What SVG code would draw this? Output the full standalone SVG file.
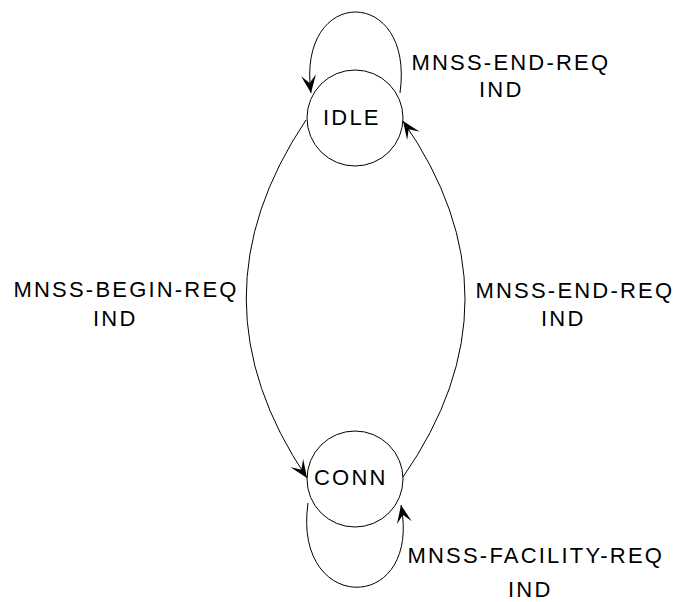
<svg xmlns="http://www.w3.org/2000/svg" width="675" height="602" viewBox="0 0 675 602">
<style>
text{font-family:"Liberation Sans",Arial,sans-serif;font-size:22px;letter-spacing:2.2px;fill:#000}
.e{fill:none;stroke:#000;stroke-width:1}
.n{fill:none;stroke:#000;stroke-width:1}
</style>
<defs>
<marker id="ah" markerUnits="userSpaceOnUse" markerWidth="19" markerHeight="15" refX="18" refY="7.5" orient="auto" viewBox="0 0 19 15">
<path d="M0,0 L18,7.5 L0,15 L8,7.5 z" fill="#000"/>
</marker>
</defs>
<rect width="675" height="602" fill="#fff"/>
<g id="connectors">
<path class="e" d="M400,93 C415,-15 296,-15 311,93" marker-end="url(#ah)"/>
<path class="e" d="M306,120 Q186,299 307,478" marker-end="url(#ah)"/>
<path class="e" d="M403,477 Q527,299 403,121" marker-end="url(#ah)"/>
<path class="e" d="M308,503 C292,615 422,615 401,505" marker-end="url(#ah)"/>
</g>
<g id="IDLE">
<circle class="n" cx="355" cy="118" r="48"/>
<text x="323" y="125">IDLE</text>
</g>
<g id="CONN">
<circle class="n" cx="355" cy="479" r="48"/>
<text x="314" y="485">CONN</text>
</g>
<g id="labels">
<text x="411.5" y="70">MNSS-END-REQ</text>
<text x="479" y="97">IND</text>
<text x="13.5" y="297">MNSS-BEGIN-REQ</text>
<text x="93" y="326">IND</text>
<text x="475.5" y="298">MNSS-END-REQ</text>
<text x="541" y="326">IND</text>
<text x="407.5" y="563">MNSS-FACILITY-REQ</text>
<text x="508" y="597">IND</text>
</g>
</svg>
